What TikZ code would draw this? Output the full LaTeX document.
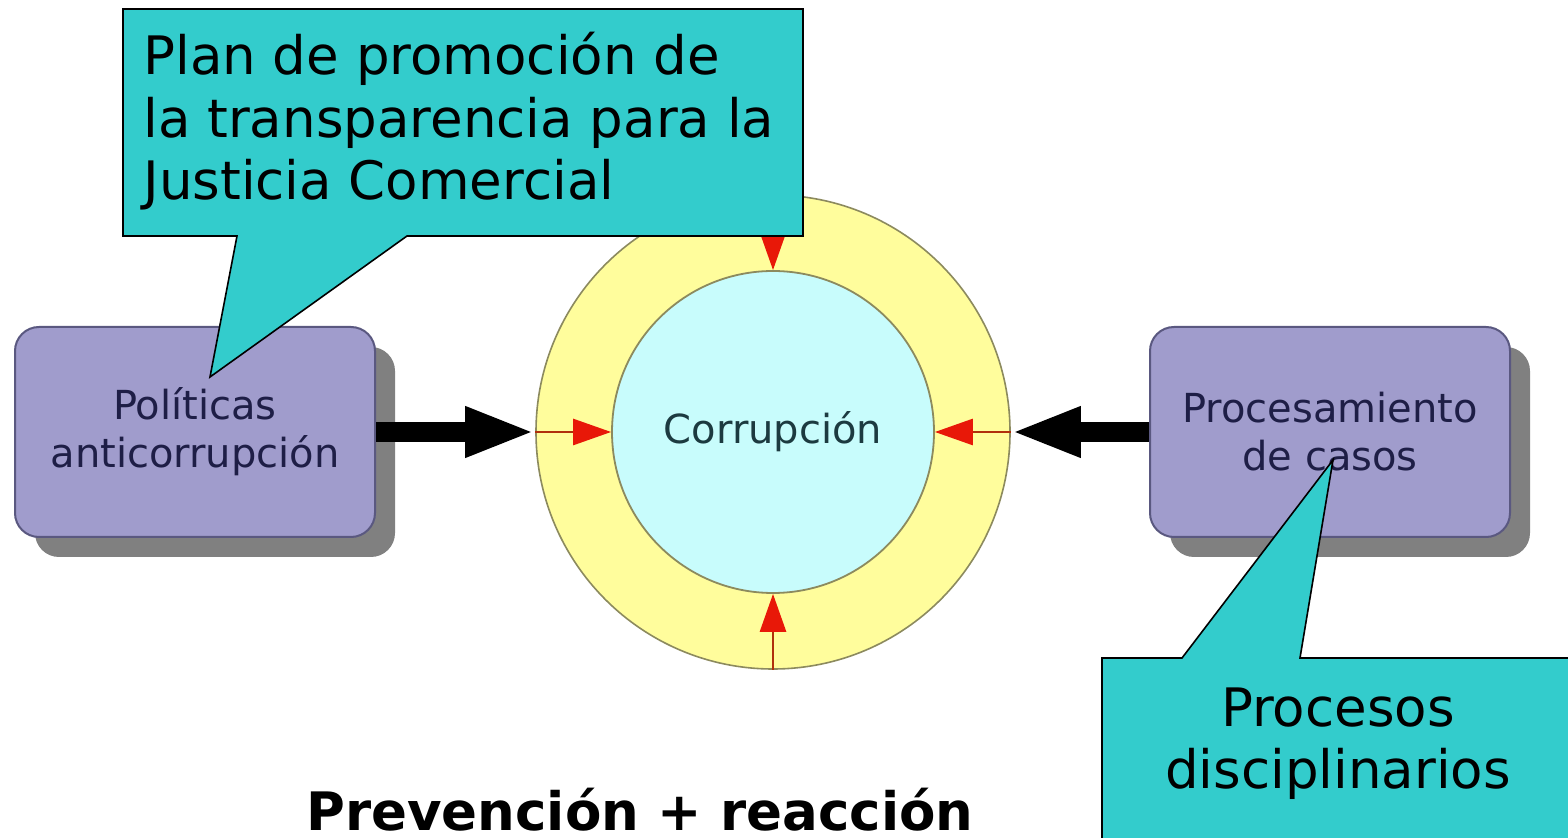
\documentclass[tikz,border=0pt]{standalone}
\usepackage{fontspec}
\setmainfont{DejaVu Sans}
\usetikzlibrary{arrows.meta,shadows}
\definecolor{calloutfill}{HTML}{33CCCC}
\definecolor{ringfill}{HTML}{FFFD9C}
\definecolor{corefill}{HTML}{C8FCFC}
\definecolor{ringline}{HTML}{8C8A5E}
\definecolor{boxfill}{HTML}{A09CCC}
\definecolor{boxline}{HTML}{5A5880}
\definecolor{boxshadow}{HTML}{808080}
\definecolor{boxtext}{HTML}{1E1E46}
\definecolor{coretext}{HTML}{1C3A40}
\definecolor{redline}{HTML}{B0300C}
\definecolor{redhead}{HTML}{E81808}
\tikzset{
  ring/.style={circle, draw=ringline, line width=0.8pt, fill=ringfill, minimum size=237pt, inner sep=0pt},
  core/.style={circle, draw=ringline, line width=0.9pt, fill=corefill, minimum size=161pt, inner sep=0pt,
    font=\fontsize{20}{24}\selectfont, text=coretext},
  actionbox/.style={rectangle, rounded corners=12pt, draw=boxline, line width=1pt, fill=boxfill,
    minimum width=180pt, minimum height=105pt, align=center, inner sep=0pt,
    font=\fontsize{20}{24}\selectfont, text=boxtext,
    drop shadow={shadow xshift=10pt, shadow yshift=-10pt, fill=boxshadow, opacity=1}},
  bigarrow/.style={line width=10pt, -{Triangle[length=35pt,width=23pt]}},
  redarrow/.style={draw=redline, line width=1.4pt, -{Triangle[length=19pt,width=13pt,color=redhead]}},
  calloutshape/.style={fill=calloutfill, draw=black, line width=0.8pt, line join=miter},
  calltext/.style={font=\fontsize{26.5}{31}\selectfont, inner sep=0pt, text=black}
}
\begin{document}
\begin{tikzpicture}[x=0.5pt,y=-0.5pt]
\useasboundingbox (0,0) rectangle (1568,838);
\clip (0,0) rectangle (1568,838);
\fill[white] (0,0) rectangle (1568,838);

\node[ring] (ring) at (773,432) {};
\node[core] (core) at (773,432) {Corrupción};

\draw[redarrow] (ring.west) -- (core.west);
\draw[redarrow] (ring.east) -- (core.east);
\draw[redarrow] (ring.north) -- (core.north);
\draw[redarrow] (ring.south) -- (core.south);

\node[actionbox] (pol) at (195,432) {Políticas\\anticorrupción};
\node[actionbox] (proc) at (1330,432) {Procesamiento\\de casos};

\draw[bigarrow] (pol.east) -- (ring.west);
\draw[bigarrow] (proc.west) -- (ring.east);

\draw[calloutshape] (123,9) -- (803,9) -- (803,236) -- (407,236) -- (210,377) -- (237,236) -- (123,236) -- cycle;
\node[calltext, anchor=base west] (plan1) at (143,75) {Plan de promoción de};
\node[calltext, anchor=base west] (plan2) at (143,138) {la transparencia para la};
\node[calltext, anchor=base west] (plan3) at (143,200) {Justicia Comercial};

\draw[calloutshape] (1102,658) -- (1182,658) -- (1333,460) -- (1300,658) -- (1590,658) -- (1590,860) -- (1102,860) -- cycle;
\node[calltext, anchor=base] (disc1) at (1338,726) {Procesos};
\node[calltext, anchor=base] (disc2) at (1338,788) {disciplinarios};

\node[calltext, font=\fontsize{26.5}{31}\selectfont\bfseries, anchor=base] (title) at (640,830) {Prevención + reacción};
\end{tikzpicture}
\end{document}
